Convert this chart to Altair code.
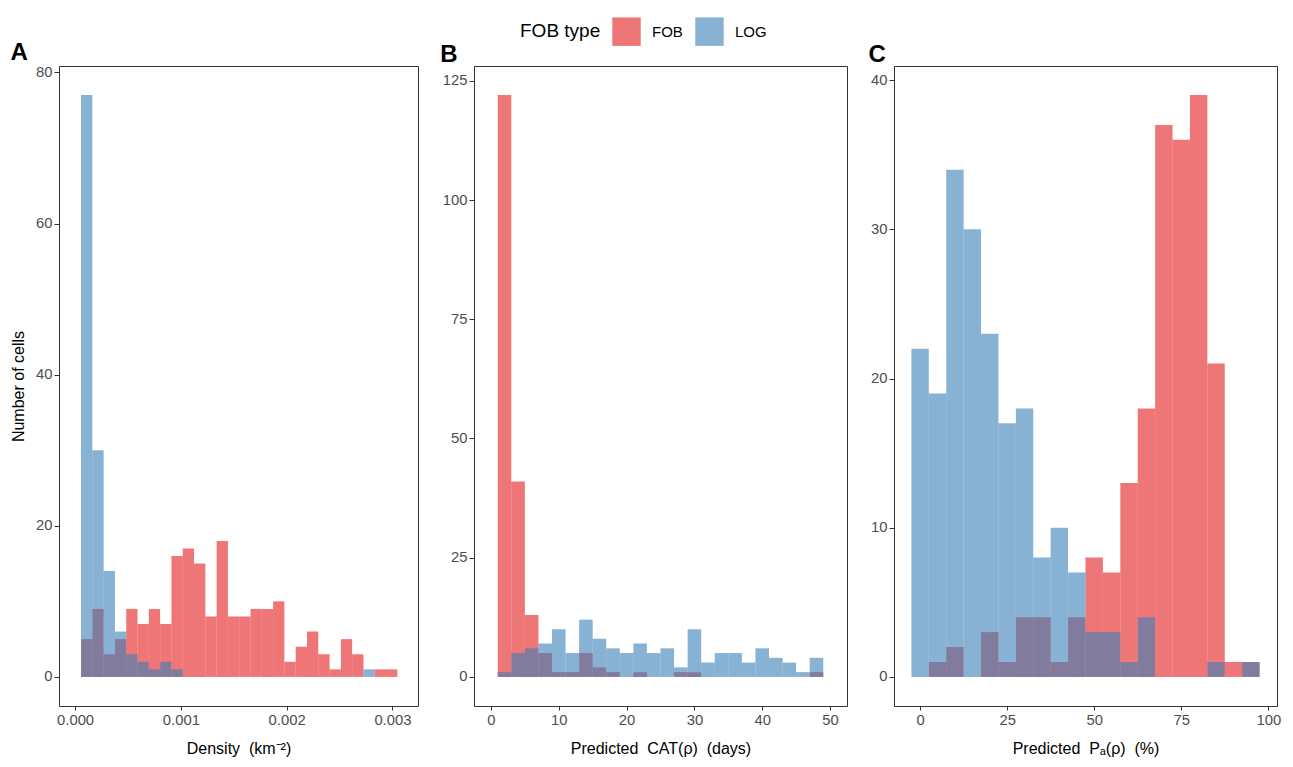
import altair as alt
import pandas as pd

# ---------------- data ----------------
types = ["FOB", "LOG"]

# Panel A: density (km^-2) histogram bin edges (28 bins)
a_edges = [0.0000565, 0.0001633, 0.0002701, 0.0003769, 0.0004837, 0.0005905,
           0.0006973, 0.0008041, 0.0009109, 0.0010177, 0.0011245, 0.0012313,
           0.0013381, 0.0014449, 0.0015517, 0.0016585, 0.0017653, 0.0018721,
           0.0019789, 0.0020857, 0.0021925, 0.0022993, 0.0024061, 0.0025129,
           0.0026197, 0.0027265, 0.0028333, 0.0029401, 0.0030469]
a_fob = [5, 9, 3, 5, 9, 7, 9, 7, 16, 17, 15, 8, 18, 8, 8, 9, 9, 10, 2, 4, 6, 3, 1, 5, 3, 0, 1, 1]
a_log = [77, 30, 14, 6, 3, 2, 1, 2, 1, 0, 0, 0, 0, 0, 0, 0, 0, 0, 0, 0, 0, 0, 0, 0, 0, 1, 0, 0]

# Panel B: predicted CAT (days), bin edges (24 bins)
b_edges = [1, 3, 5, 7, 9, 11, 13, 15, 17, 19, 21, 23, 25, 27, 29, 31, 33, 35,
           37, 39, 41, 43, 45, 47, 49]
b_fob = [122, 41, 13, 5, 1, 1, 5, 2, 1, 0, 1, 0, 0, 1, 1, 0, 0, 0, 0, 0, 0, 0, 0, 1]
b_log = [1, 5, 6, 7, 10, 5, 12, 8, 6, 5, 7, 5, 6, 2, 10, 3, 5, 5, 3, 6, 4, 3, 1, 4]

# Panel C: predicted Pa (%), bin edges (20 bins)
c_edges = [-2.5, 2.5, 7.5, 12.5, 17.5, 22.5, 27.5, 32.5, 37.5, 42.5, 47.5,
           52.5, 57.5, 62.5, 67.5, 72.5, 77.5, 82.5, 87.5, 92.5, 97.5]
c_fob = [0, 1, 2, 0, 3, 1, 4, 4, 1, 4, 8, 7, 13, 18, 37, 36, 39, 21, 1, 1]
c_log = [22, 19, 34, 30, 23, 17, 18, 8, 10, 7, 3, 3, 1, 4, 0, 0, 0, 1, 0, 1]

a_xticks = [0, 0.001, 0.002, 0.003]
b_xticks = [0, 10, 20, 30, 40, 50]
c_xticks = [0, 25, 50, 75, 100]
a_yticks = [0, 20, 40, 60, 80]
b_yticks = [0, 25, 50, 75, 100, 125]
c_yticks = [0, 10, 20, 30, 40]

colors = ["#E41A1C", "#377EB8"]
FONT = "Liberation Sans"
SP = " \u00a0"


def table(edges, fob, log):
    rows = []
    for t, counts in (("FOB", fob), ("LOG", log)):
        for i, c in enumerate(counts):
            rows.append({"start": edges[i], "end": edges[i + 1], "count": c, "type": t})
    return pd.DataFrame(rows)


def panel(df, letter, dx, xdomain, xticks, xfmt, xtitle, ydomain, yticks, ytitle, width):
    if ytitle:
        yaxis = alt.Axis(values=yticks, title=ytitle, titlePadding=9)
    else:
        yaxis = alt.Axis(values=yticks, title=None)
    return alt.Chart(df).mark_bar(opacity=0.6, strokeWidth=0).encode(
        x=alt.X("start:Q", scale=alt.Scale(domain=xdomain, nice=False, zero=False),
                axis=alt.Axis(values=xticks, format=xfmt, title=xtitle)),
        x2="end:Q",
        y=alt.Y("count:Q", stack=None, scale=alt.Scale(domain=ydomain, nice=False, zero=False),
                axis=yaxis),
        y2=alt.datum(0),
        color=alt.Color("type:N", scale=alt.Scale(domain=types, range=colors),
                        legend=alt.Legend(title="FOB type")),
    ).properties(
        width=width, height=640,
        title=alt.TitleParams(letter, anchor="start", frame="bounds", offset=0,
                              baseline="bottom", dx=dx, dy=25),
    )


pa = panel(table(a_edges, a_fob, a_log), "A", 0, [-0.000152, 0.003242], a_xticks, ".3f",
           "Density" + SP + "(km\u207b\u00b2)", [-3.85, 80.85], a_yticks, "Number of cells", 359)
pb = panel(table(b_edges, b_fob, b_log), "B", -2, [-2.5, 52.5], b_xticks, "d",
           "Predicted" + SP + "CAT(\u03c1)" + SP + "(days)", [-6.1, 128.1], b_yticks, None, 373)
pc = panel(table(c_edges, c_fob, c_log), "C", -2, [-7.5, 102.5], c_xticks, "d",
           "Predicted" + SP + "P\u2090(\u03c1)" + SP + "(%)", [-1.95, 40.95], c_yticks, None, 383)

chart = alt.hconcat(pa, pb, pc, spacing=20).properties(
    padding={"left": 2, "top": 9, "right": 0, "bottom": 0}
).configure_view(
    stroke="#333333", strokeWidth=1
).configure_axis(
    grid=False, domain=False, tickColor="#333333", tickWidth=1,
    labelColor="#4D4D4D", labelFontSize=14.8, labelFont=FONT, labelPadding=2,
    titleFont=FONT, titleFontSize=16, titleFontWeight="normal", titleColor="black",
).configure_axisX(
    tickSize=4, titlePadding=14,
).configure_axisY(
    tickSize=5,
).configure_title(
    font=FONT, fontSize=24, fontWeight="bold", color="black",
).configure_legend(
    orient="none", legendX=461, legendY=-49, direction="horizontal", titleOrient="left",
    titleFont=FONT, titleFontSize=19, titleFontWeight="normal", titleColor="black",
    labelFont=FONT, labelFontSize=15, labelColor="black",
    symbolType="square", symbolSize=810, symbolStrokeWidth=0, symbolOpacity=0.6,
    labelOffset=11, columnPadding=12, titlePadding=11,
)

chart.save("out.html", embed_options={"renderer": "svg", "actions": False})
